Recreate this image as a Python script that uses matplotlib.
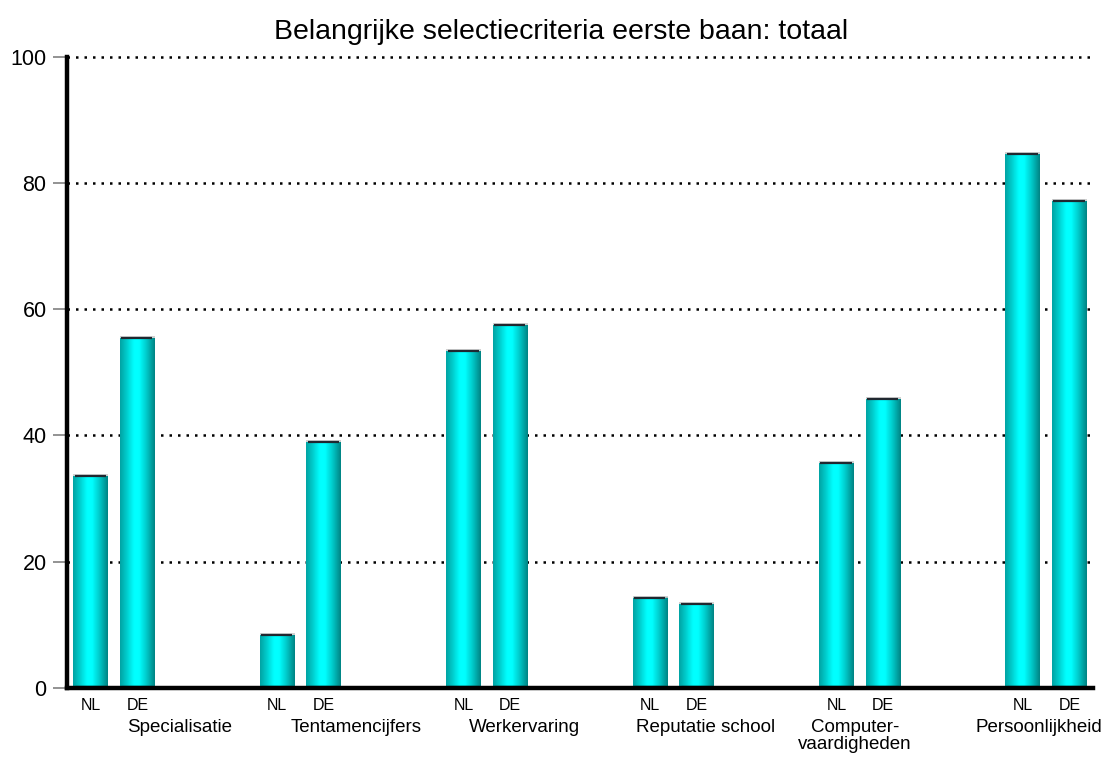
import numpy as np
import matplotlib.pyplot as plt
import matplotlib.transforms as mtransforms
from matplotlib.colors import LinearSegmentedColormap

plt.rcParams['font.family'] = ['Liberation Sans', 'DejaVu Sans']

# data
categories = ['Specialisatie', 'Tentamencijfers', 'Werkervaring',
              'Reputatie school', 'Computer-\nvaardigheden', 'Persoonlijkheid']
countries = ['NL', 'DE']
nl_values = [33.6, 8.4, 53.4, 14.3, 35.6, 84.6]
de_values = [55.4, 38.9, 57.5, 13.3, 45.8, 77.2]
y_ticks = [0, 20, 40, 60, 80, 100]
title = 'Belangrijke selectiecriteria eerste baan: totaal'

# layout (offset of the category label from the group centre, in slots)
label_offsets = [1.4, 1.2, 0.8, 0.7, -0.1, -0.15]
bar_w = 0.75

# cylinder shading across the bar width
shade = LinearSegmentedColormap.from_list(
    'cyl', [(0.0, '#00a4a4'), (0.15, '#00c4c4'), (0.4, '#00ffff'),
            (0.55, '#00ffff'), (0.8, '#00c0c0'), (1.0, '#008484')])
grad = np.linspace(0, 1, 64).reshape(1, -1)

fig = plt.figure(figsize=(11.05, 7.6), dpi=100)
ax = fig.add_axes([0.061, 0.095, 0.928, 0.83])

xs, labels = [], []
for g, (nl, de) in enumerate(zip(nl_values, de_values)):
    for k, v in enumerate([nl, de]):
        x = 4 * g + k
        xs.append(x)
        labels.append(countries[k])
        ax.imshow(grad, cmap=shade, aspect='auto', interpolation='bilinear',
                  extent=[x - bar_w / 2, x + bar_w / 2, 0, v], zorder=3)
        # top rim
        ax.plot([x - bar_w / 2, x + bar_w / 2], [v, v], color='#c8c8c8',
                lw=1.2, zorder=4, solid_capstyle='butt',
                transform=ax.transData + mtransforms.ScaledTranslation(0, 1 / 100, fig.dpi_scale_trans))
        ax.plot([x - bar_w / 2 + 0.03, x + bar_w / 2 - 0.05], [v, v], color='#202830',
                lw=1.6, zorder=4, solid_capstyle='butt')
        # base rim
        ax.plot([x - bar_w / 2 + 0.03, x + bar_w / 2 - 0.05], [0.35, 0.35], color='#106060',
                lw=1.0, zorder=4, solid_capstyle='butt')

ax.set_xlim(-0.5, 21.5)
ax.set_ylim(0, 100)

ax.set_yticks(y_ticks)
ax.tick_params(axis='y', length=10, width=1.2, color='#808080', pad=5, labelsize=15.5)
ax.set_xticks(xs)
ax.set_xticklabels(labels, fontsize=11.5)
ax.tick_params(axis='x', length=0, pad=7)

for y in y_ticks[1:]:
    ax.axhline(y, color='black', lw=1.8, ls=(0, (1, 2.4)), zorder=1, clip_on=False)

for s in ['top', 'right']:
    ax.spines[s].set_visible(False)
ax.spines['left'].set_linewidth(3.2)
ax.spines['bottom'].set_linewidth(3.2)
ax.spines['left'].set_zorder(5)
ax.spines['bottom'].set_zorder(5)

trans = mtransforms.blended_transform_factory(ax.transData, ax.transAxes)
for g, cat in enumerate(categories):
    ax.text(4 * g + 0.5 + label_offsets[g], -0.05, cat, transform=trans,
            ha='center', va='top', fontsize=13.5, linespacing=0.95)

fig.text(0.508, 0.958, title, ha='center', va='center', fontsize=20.5)

fig.savefig('out.png', dpi=100)
